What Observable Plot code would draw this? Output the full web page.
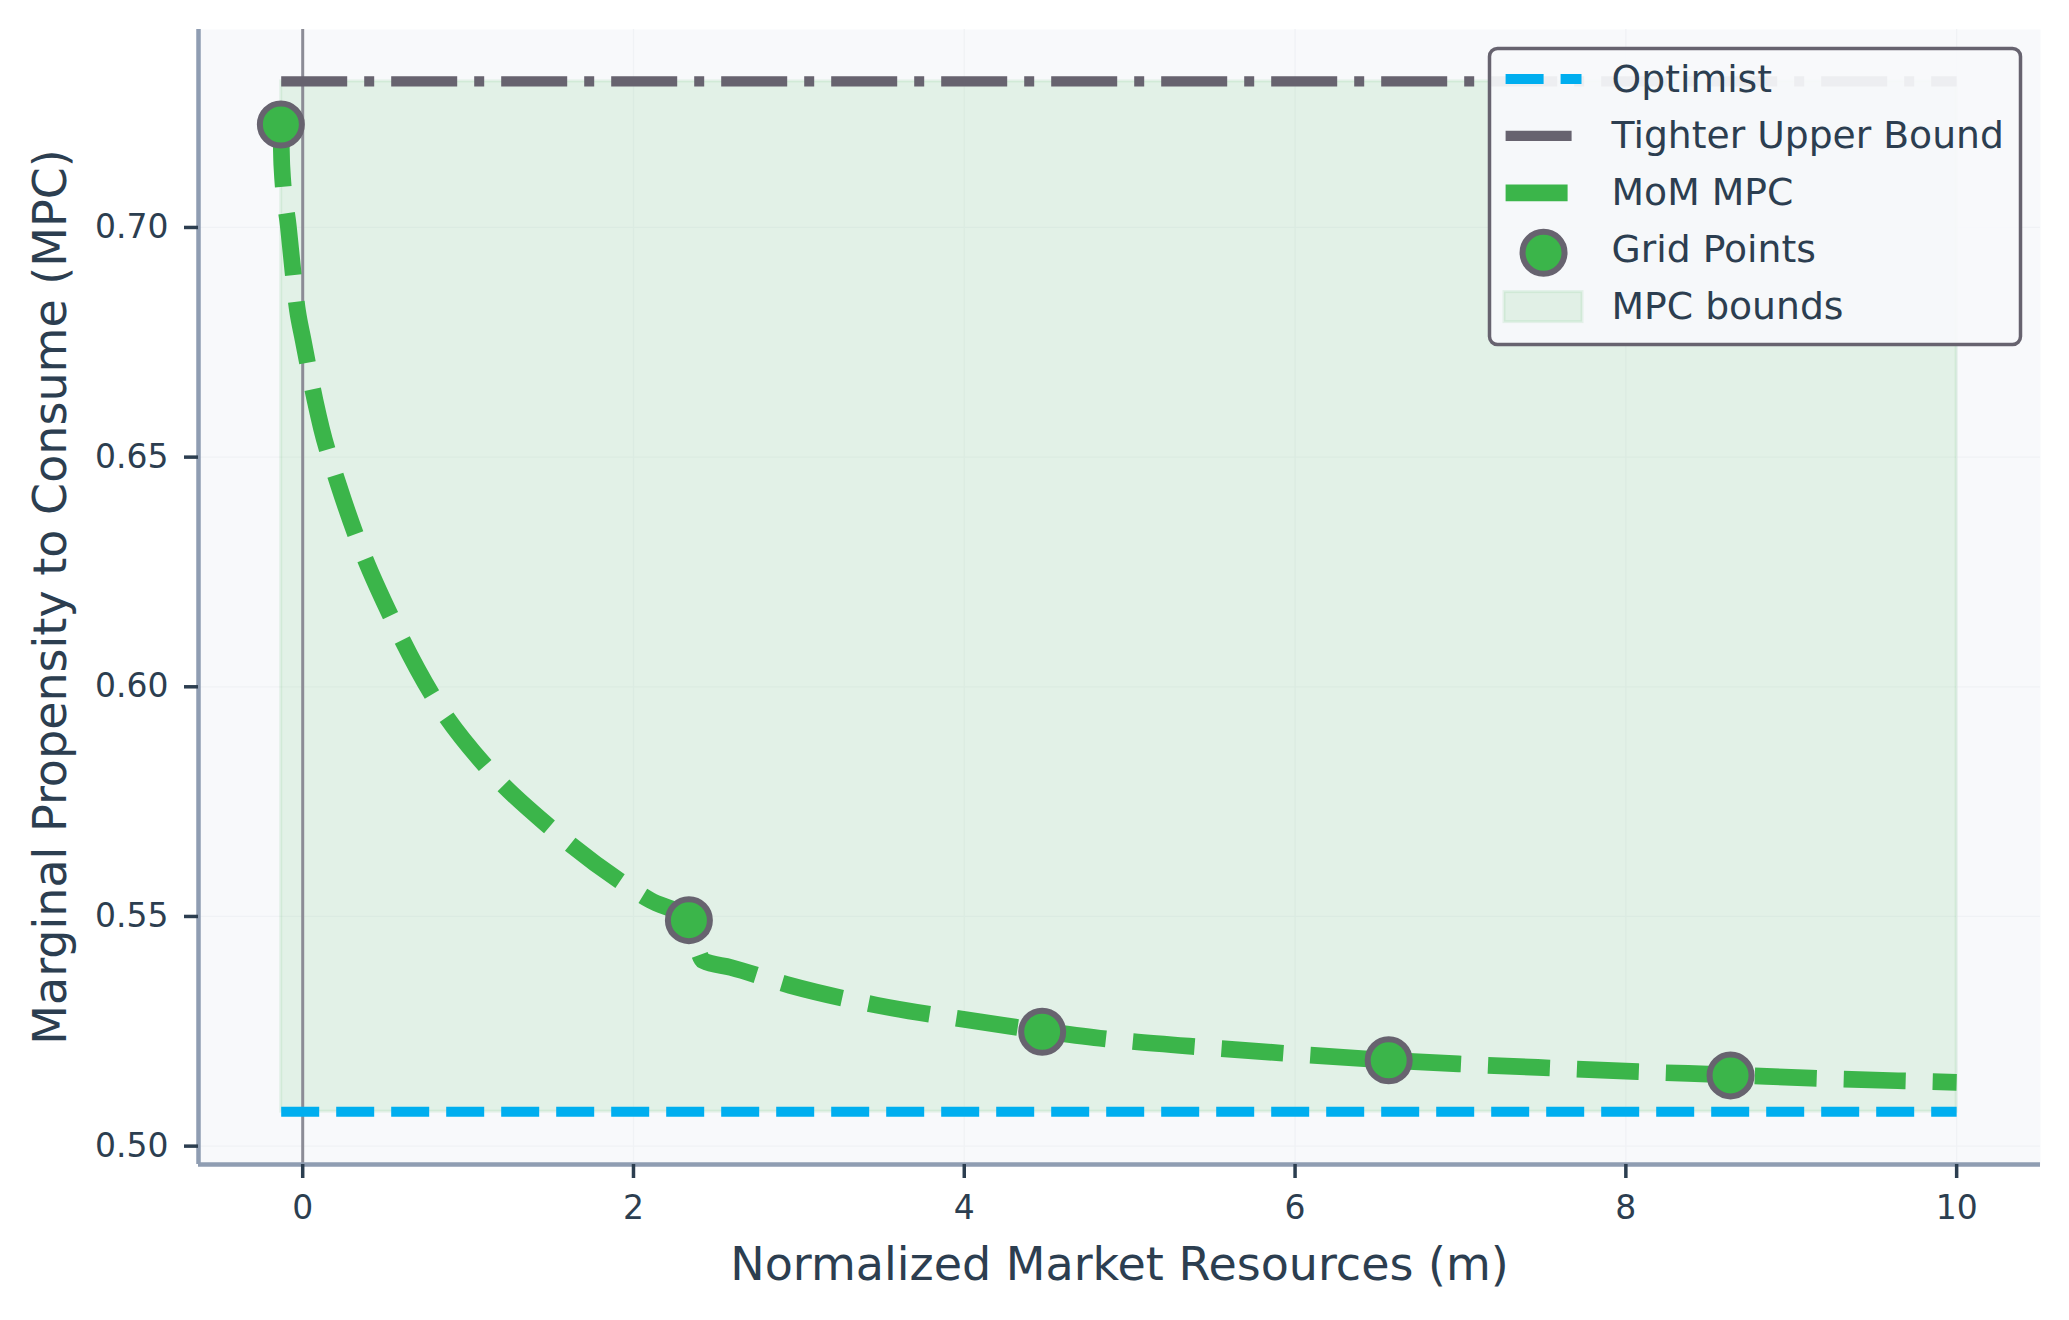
<!DOCTYPE html>
<html><head><meta charset="utf-8">
<script src="https://cdn.jsdelivr.net/npm/d3@7"></script>
<script src="https://cdn.jsdelivr.net/npm/@observablehq/plot@0.6"></script>
<style>
html,body{margin:0;padding:0;background:#fff;}
#wrap{position:relative;width:2069px;height:1320px;font-family:"DejaVu Sans",sans-serif;}
#wrap svg.legend{position:absolute;left:0;top:0;pointer-events:none;}
</style></head><body><div id="wrap"></div>
<script>
// ---- data ----
const momX = [-0.132, -0.126, -0.087, -0.031, 0.002, 0.075, 0.114, 0.218, 0.333, 0.544, 0.797, 1.119, 1.492, 1.927, 2.103, 2.335, 2.42, 2.589, 2.946, 3.469, 3.993, 4.471, 4.820, 5.491, 5.941, 6.566, 6.989, 7.548, 8.073, 8.633, 9.119, 9.680, 10.0];
const momY = [0.7224, 0.7134, 0.7003, 0.6818, 0.6756, 0.6623, 0.6562, 0.6438, 0.6319, 0.6145, 0.5974, 0.5822, 0.5695, 0.5575, 0.5535, 0.5492, 0.5404, 0.5389, 0.5350, 0.5307, 0.5276, 0.5251, 0.5235, 0.5214, 0.5202, 0.5187, 0.5179, 0.5170, 0.5162, 0.5155, 0.5148, 0.5142, 0.5139];
const gridPtsX = [-0.132, 2.335, 4.471, 6.566, 8.633];
const gridPtsY = [0.7224, 0.5492, 0.5249, 0.5187, 0.5154];
const boundX = [-0.13, 10];
const optimistY = [0.5075, 0.5075];
const upperY = [0.7318, 0.7318];
const zeroLine = [0];
const xTicks = [0, 2, 4, 6, 8, 10];
const yTicks = [0.50, 0.55, 0.60, 0.65, 0.70];
const xDomain = [-0.63, 10.507];
const yDomain = [0.4960, 0.7431];
const xLabel = "Normalized Market Resources (m)";
const yLabel = "Marginal Propensity to Consume (MPC)";
const legendLabels = ["Optimist", "Tighter Upper Bound", "MoM MPC", "Grid Points", "MPC bounds"];

// ---- styles ----
const C = {text: "#2c3e50", spine: "#8f9db2", green: "#3bb54a", cyan: "#00aeef", gray: "#67636f", bg: "#f8f9fb", grid: "#f0f2f5", zero: "#8c8c96"};

const mom = momX.map((x, i) => ({x, y: momY[i]}));
const gridPts = gridPtsX.map((x, i) => ({x, y: gridPtsY[i]}));
const optimist = boundX.map((x, i) => ({x, y: optimistY[i]}));
const upper = boundX.map((x, i) => ({x, y: upperY[i]}));
const bounds = [{x1: boundX[0], x2: boundX[1], y1: optimistY[0], y2: upperY[0]}];

const chart = Plot.plot({
  width: 2069, height: 1320,
  marginLeft: 198, marginRight: 29, marginTop: 29, marginBottom: 156,
  style: {fontFamily: "DejaVu Sans", background: "white", color: C.text},
  x: {domain: xDomain, label: null},
  y: {domain: yDomain, label: null},
  marks: [
    Plot.frame({fill: C.bg, stroke: "none"}),
    Plot.gridX(xTicks, {stroke: C.grid, strokeOpacity: 1, strokeWidth: 1.3}),
    Plot.gridY(yTicks, {stroke: C.grid, strokeOpacity: 1, strokeWidth: 1.3}),
    Plot.rect(bounds, {x1: "x1", x2: "x2", y1: "y1", y2: "y2", fill: C.green, fillOpacity: 0.11, stroke: C.green, strokeOpacity: 0.1, strokeWidth: 3}),
    Plot.ruleX(zeroLine, {stroke: C.zero, strokeWidth: 3}),
    Plot.line(optimist, {x: "x", y: "y", stroke: C.cyan, strokeWidth: 10, strokeDasharray: "38,17", strokeLinecap: "butt"}),
    Plot.line(upper, {x: "x", y: "y", stroke: C.gray, strokeWidth: 10.3, strokeDasharray: "66,17,10,17", strokeLinecap: "butt"}),
    Plot.line(mom, {x: "x", y: "y", stroke: C.green, strokeWidth: 16.7, strokeDasharray: "62,27", strokeLinecap: "butt", strokeLinejoin: "round", curve: "monotone-x"}),
    Plot.dot(gridPts, {x: "x", y: "y", r: 21, fill: C.green, stroke: C.gray, strokeWidth: 6}),
    Plot.ruleX([xDomain[0]], {stroke: C.spine, strokeWidth: 4.5}),
    Plot.ruleY([yDomain[0]], {stroke: C.spine, strokeWidth: 4.5}),
    Plot.axisX(xTicks, {tickSize: 14, tickPadding: 17, fontSize: 33, color: C.text, strokeWidth: 3.5, label: null, tickFormat: d => String(d)}),
    Plot.axisY(yTicks, {tickSize: 14, tickPadding: 16, fontSize: 33, color: C.text, strokeWidth: 3.5, label: null, tickFormat: d3.format(".2f")}),
    Plot.text([xLabel], {frameAnchor: "bottom", dy: 101, fontSize: 46, fill: C.text, lineAnchor: "middle", textAnchor: "middle"}),
    Plot.text([yLabel], {frameAnchor: "left", rotate: -90, dx: -147, fontSize: 46, fill: C.text, lineAnchor: "middle", textAnchor: "middle"})
  ]
});
const wrap = document.getElementById("wrap");
wrap.appendChild(chart);

// ---- legend overlay ----
const lg = d3.select(wrap).append("svg").attr("class", "legend")
  .attr("width", 2069).attr("height", 1320)
  .style("font-family", "DejaVu Sans");
lg.append("rect").attr("x", 1489.5).attr("y", 48.5).attr("width", 531).attr("height", 296).attr("rx", 8)
  .attr("fill", "rgba(248,249,251,0.93)").attr("stroke", C.gray).attr("stroke-width", 3.5);
const hx0 = 1505.6, hx1 = 1581.5, tx = 1611.6;
legendLabels.forEach((lab, i) => {
  const hy = 79 + 56.9 * i;
  const by = 91.5 + 56.8 * i;
  const g = lg.append("g");
  if (i === 0) {
    g.append("line").attr("x1", hx0).attr("x2", hx1).attr("y1", hy).attr("y2", hy)
      .attr("stroke", C.cyan).attr("stroke-width", 10).attr("stroke-dasharray", "38,17");
  } else if (i === 1) {
    g.append("line").attr("x1", hx0).attr("x2", hx1).attr("y1", hy).attr("y2", hy)
      .attr("stroke", C.gray).attr("stroke-width", 10.3).attr("stroke-dasharray", "66,17,10,17");
  } else if (i === 2) {
    g.append("line").attr("x1", hx0).attr("x2", hx1).attr("y1", hy).attr("y2", hy)
      .attr("stroke", C.green).attr("stroke-width", 16.7).attr("stroke-dasharray", "62,27");
  } else if (i === 3) {
    g.append("circle").attr("cx", (hx0 + hx1) / 2).attr("cy", hy + 3).attr("r", 21)
      .attr("fill", C.green).attr("stroke", C.gray).attr("stroke-width", 6);
  } else {
    g.append("rect").attr("x", 1504).attr("y", hy - 15).attr("width", 78).attr("height", 30)
      .attr("fill", C.green).attr("fill-opacity", 0.11).attr("stroke", C.green).attr("stroke-opacity", 0.1).attr("stroke-width", 3);
  }
  g.append("text").attr("x", tx).attr("y", by).attr("font-size", 37.7).attr("fill", C.text).text(lab);
});
</script></body></html>
